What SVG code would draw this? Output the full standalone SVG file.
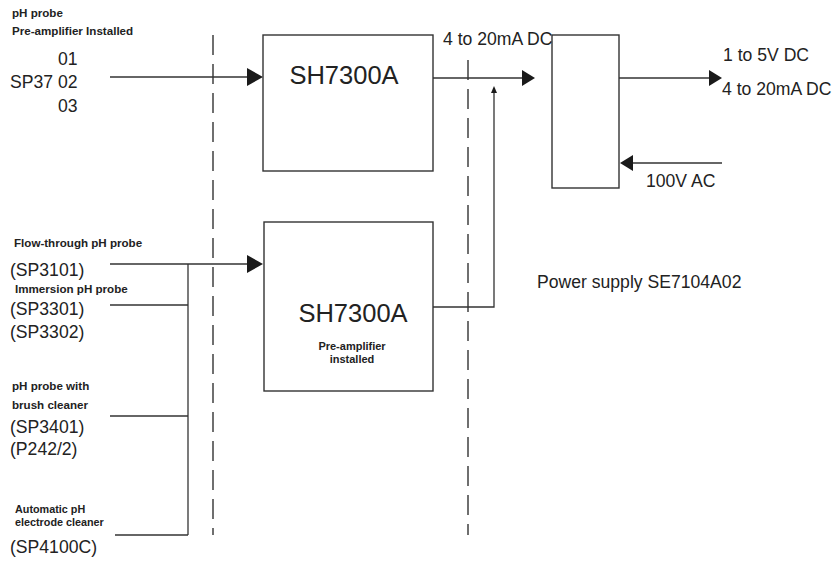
<svg xmlns="http://www.w3.org/2000/svg" width="837" height="563" viewBox="0 0 837 563">
<style>
.box{fill:#fff;stroke:#333;stroke-width:1.4}
.ln{fill:none;stroke:#333;stroke-width:1.3}
.dash{fill:none;stroke:#333;stroke-width:1.4;stroke-dasharray:20 9}
.ah{fill:#1a1a1a}
text{font-family:"Liberation Sans",Arial,sans-serif;fill:#222}
.sm{font-size:11.6px;font-weight:bold}
.md{font-size:17.6px}
.lg{font-size:25.5px}
.mid{text-anchor:middle}
.tight{font-size:10.8px}
</style>
<rect width="837" height="563" fill="#fff"/>

<g id="separators">
<line class="dash" x1="213" y1="35" x2="213" y2="535"/>
<line class="dash" x1="468" y1="60" x2="468" y2="535"/>
</g>

<g id="connectors">
<line class="ln" x1="110" y1="77" x2="250" y2="77"/>
<polygon class="ah" points="247,68 263,77 247,86"/>
<line class="ln" x1="433" y1="78" x2="525" y2="78"/>
<polygon class="ah" points="522,70 535,78 522,86"/>
<polyline class="ln" points="433,307 494,307 494,92"/>
<polygon class="ah" points="491,93 494,86 497,93"/>
<line class="ln" x1="619" y1="78" x2="712" y2="78"/>
<polygon class="ah" points="709,70 722,78 709,86"/>
<line class="ln" x1="632" y1="163" x2="722" y2="163"/>
<polygon class="ah" points="633,155 620,163 633,171"/>
<line class="ln" x1="110" y1="264" x2="250" y2="264"/>
<polygon class="ah" points="247,255 263,264 247,273"/>
<line class="ln" x1="188" y1="264" x2="188" y2="535"/>
<line class="ln" x1="110" y1="305" x2="188" y2="305"/>
<line class="ln" x1="110" y1="416" x2="188" y2="416"/>
<line class="ln" x1="115" y1="535" x2="188" y2="535"/>
</g>

<g id="input-sp37">
<text class="sm" x="12" y="17">pH probe</text>
<text class="sm" x="12" y="35">Pre-amplifier Installed</text>
<text class="md" x="58" y="65">01</text>
<text class="md" x="10" y="88">SP37 02</text>
<text class="md" x="58" y="112">03</text>
</g>

<g id="sh7300a-top">
<rect class="box" x="263" y="35" width="170" height="136"/>
<text class="lg" x="344" y="84" text-anchor="middle">SH7300A</text>
</g>

<g id="sh7300a-bottom">
<rect class="box" x="264" y="222" width="169" height="169"/>
<text class="lg" x="353" y="322" text-anchor="middle">SH7300A</text>
<text class="sm mid" x="352" y="350" style="font-size:11px">Pre-amplifier</text>
<text class="sm mid" x="352" y="363" style="font-size:11px">installed</text>
</g>

<g id="power-supply">
<rect class="box" x="552" y="35" width="67" height="153"/>
<text class="md" x="537" y="288">Power supply SE7104A02</text>
</g>

<g id="signal-labels">
<text class="md" x="443" y="45">4 to 20mA DC</text>
<text class="md" x="723" y="61">1 to 5V DC</text>
<text class="md" x="722" y="95">4 to 20mA DC</text>
<text class="md" x="646" y="187">100V AC</text>
</g>

<g id="input-flow">
<text class="sm" x="14" y="247">Flow-through pH probe</text>
<text class="md" x="10" y="276">(SP3101)</text>
</g>

<g id="input-immersion">
<text class="sm" x="15" y="293">Immersion  pH probe</text>
<text class="md" x="10" y="315">(SP3301)</text>
<text class="md" x="10" y="338">(SP3302)</text>
</g>

<g id="input-brush">
<text class="sm" x="12" y="390">pH probe with</text>
<text class="sm" x="12" y="409">brush cleaner</text>
<text class="md" x="10" y="433">(SP3401)</text>
<text class="md" x="10" y="455">(P242/2)</text>
</g>

<g id="input-auto">
<text class="sm tight" x="15" y="513">Automatic pH</text>
<text class="sm tight" x="15" y="526">electrode cleaner</text>
<text class="md" x="10" y="553">(SP4100C)</text>
</g>
</svg>
